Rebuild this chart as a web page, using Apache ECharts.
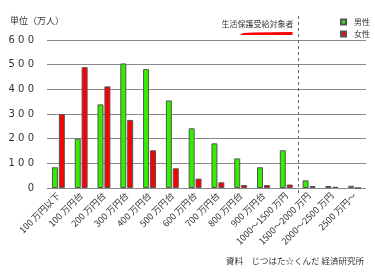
<!DOCTYPE html>
<html><head><meta charset="utf-8">
<script src="https://cdn.jsdelivr.net/npm/echarts@6/dist/echarts.min.js"></script>
<style>html,body{margin:0;padding:0;background:#fff}#c{width:375px;height:272px}</style>
</head><body><div id="c"></div>
<script>
var categories = ['100 万円以下','100 万円台','200 万円台','300 万円台','400 万円台','500 万円台','600 万円台','700 万円台','800 万円台','900 万円台','1000〜1500 万円','1500〜2000 万円','2000〜2500 万円','2500 万円〜'];
var male =   [84, 200, 339, 505, 482, 355, 242, 181, 120, 84, 153, 31, 8, 9];
var female = [300, 490, 412, 276, 153, 80, 38, 23, 12, 12, 14, 8, 5, 0];
var seriesNames = ['男性','女性'];
var unitLabel = '単位（万人）';
var annotation = '生活保護受給対象者';
var sourceText = '資料　じつはた☆くんだ 経済研究所';

var FONT = '"Noto Sans CJK JP", "DejaVu Sans", sans-serif';
var chart = echarts.init(document.getElementById('c'));
var option = {
  animation: false,
  textStyle: {fontFamily: FONT},
  grid: {left: 47, right: 9, top: 40, bottom: 84},
  legend: {
    orient: 'vertical', left: 335, top: 13, itemWidth: 5, itemHeight: 5, itemGap: 4,
    icon: 'rect',
    textStyle: {fontSize: 8, color: '#333', fontFamily: FONT, padding: [0, 0, 0, 3]},
    data: seriesNames
  },
  xAxis: {
    type: 'category', data: categories,
    axisLine: {show: false}, axisTick: {show: false},
    axisLabel: {rotate: 45, fontSize: 9, color: '#333', margin: 6, interval: 0, fontFamily: FONT}
  },
  yAxis: {
    type: 'value', min: 0, max: 600, interval: 100,
    axisLine: {show: false}, axisTick: {show: false},
    splitLine: {lineStyle: {color: '#8a8a8a', width: 1}},
    axisLabel: {fontSize: 10, color: '#333', margin: 13, fontFamily: '"DejaVu Sans", sans-serif',
      formatter: function(v){ return String(v).split('').join(' '); }}
  },
  series: [
    {name: seriesNames[0], type: 'bar', data: male, barWidth: 6, barGap: '15%',
     itemStyle: {color: '#33ee00', borderColor: '#555', borderWidth: 1}},
    {name: seriesNames[1], type: 'bar', data: female, barWidth: 6,
     itemStyle: {color: '#ff0000', borderColor: '#555', borderWidth: 1}}
  ]
};
chart.setOption(option);

var p10 = chart.convertToPixel({xAxisIndex: 0}, categories[10]);
var p11 = chart.convertToPixel({xAxisIndex: 0}, categories[11]);
var bx = Math.round((p10 + p11) / 2) + 0.5;
chart.setOption({
  graphic: [
    {type: 'text', x: 10, y: 21, style: {text: unitLabel, fill: '#333', verticalAlign: 'middle', font: '9px ' + FONT}},
    {type: 'line', shape: {x1: bx, y1: 16, x2: bx, y2: 194}, style: {stroke: '#666', lineWidth: 1, lineDash: [3, 3]}},
    {type: 'text', x: bx - 5, y: 24, style: {text: annotation, fill: '#333', align: 'right', verticalAlign: 'middle', font: '8px ' + FONT}},
    {type: 'polygon', shape: {points: [[bx - 6, 32], [bx - 6, 35], [bx - 59, 35], [bx - 55, 33], [bx - 46, 32.6]]}, style: {fill: '#ff0000'}},
    {type: 'text', x: 364, y: 261, style: {text: sourceText, fill: '#333', align: 'right', verticalAlign: 'middle', font: '8.5px ' + FONT}}
  ]
});
</script></body></html>
